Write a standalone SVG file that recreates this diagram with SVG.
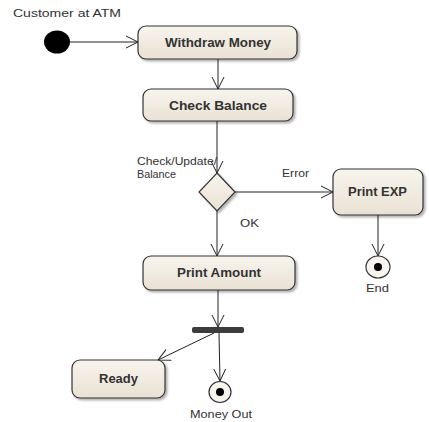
<svg xmlns="http://www.w3.org/2000/svg" width="429" height="422" viewBox="0 0 429 422">
<defs>
<linearGradient id="g" x1="0" y1="0" x2="0" y2="1">
<stop offset="0" stop-color="#f8f5ee"/>
<stop offset="1" stop-color="#e9e1d3"/>
</linearGradient>
<filter id="sh" x="-10%" y="-10%" width="130%" height="140%">
<feDropShadow dx="2" dy="2" stdDeviation="1.2" flood-color="#000" flood-opacity="0.3"/>
</filter>
<marker id="arr" markerUnits="userSpaceOnUse" markerWidth="14" markerHeight="14" refX="12" refY="6" orient="auto" viewBox="0 0 14 12">
<path d="M0,0 L12,6 L0,12" fill="none" stroke="#222" stroke-width="1"/>
</marker>
<style>
.box{fill:url(#g);stroke:#333;stroke-width:1.2;filter:url(#sh)}
.lbl{font-family:"Liberation Sans",Arial,sans-serif;font-size:12px;font-weight:bold;fill:#333}
.txt{font-family:"Liberation Sans",Arial,sans-serif;font-size:11.5px;fill:#333}
.ln{stroke:#222;stroke-width:1;fill:none;marker-end:url(#arr)}
</style>
</defs>
<rect width="429" height="422" fill="#fff"/>

<text class="txt" x="13" y="17" textLength="108" lengthAdjust="spacingAndGlyphs">Customer at ATM</text>

<g id="connectors">
<line class="ln" x1="70" y1="42" x2="138" y2="42"/>
<line class="ln" x1="218" y1="59" x2="218" y2="89"/>
<line class="ln" x1="217" y1="121" x2="217" y2="173"/>
<line class="ln" x1="235" y1="192" x2="333" y2="192"/>
<line class="ln" x1="217" y1="211" x2="217" y2="256"/>
<line class="ln" x1="378" y1="215" x2="378" y2="256"/>
<line class="ln" x1="218" y1="290" x2="218" y2="327"/>
<line class="ln" x1="214" y1="333" x2="158" y2="360"/>
<line class="ln" x1="219" y1="333" x2="220" y2="381"/>
<text class="txt" x="137" y="165" textLength="80" lengthAdjust="spacingAndGlyphs">Check/Update/</text>
<text class="txt" x="137" y="178" textLength="39" lengthAdjust="spacingAndGlyphs">Balance</text>
<text class="txt" x="282" y="177" textLength="27" lengthAdjust="spacingAndGlyphs">Error</text>
<text class="txt" x="240" y="227" textLength="19" lengthAdjust="spacingAndGlyphs">OK</text>
</g>

<g id="start">
<ellipse cx="57" cy="42" rx="13" ry="11.5" fill="#000"/>
</g>

<g id="withdraw">
<rect class="box" x="138" y="26" width="159" height="33" rx="8"/>
<text class="lbl" x="165" y="47" textLength="106" lengthAdjust="spacingAndGlyphs">Withdraw Money</text>
</g>

<g id="check">
<rect class="box" x="143" y="89" width="150" height="32" rx="8"/>
<text class="lbl" x="169" y="110" textLength="98" lengthAdjust="spacingAndGlyphs">Check Balance</text>
</g>

<g id="decision">
<path class="box" d="M217,173 L235,192 L217,211 L199,192 Z"/>
</g>

<g id="printexp">
<rect class="box" x="333" y="169" width="90" height="46" rx="8"/>
<text class="lbl" x="348" y="196" textLength="59" lengthAdjust="spacingAndGlyphs">Print EXP</text>
</g>

<g id="end">
<ellipse cx="378" cy="267" rx="12" ry="11" fill="#f8f5ee" stroke="#333" stroke-width="1.2"/>
<circle cx="378" cy="267" r="4" fill="#000"/>
<text class="txt" x="366" y="292" textLength="23" lengthAdjust="spacingAndGlyphs">End</text>
</g>

<g id="printamount">
<rect class="box" x="143" y="256" width="152" height="34" rx="8"/>
<text class="lbl" x="177" y="277" textLength="84" lengthAdjust="spacingAndGlyphs">Print Amount</text>
</g>

<g id="fork">
<rect x="192" y="327" width="52" height="6" rx="2" fill="#3c3c3c"/>
</g>

<g id="ready">
<rect class="box" x="72" y="360" width="93" height="38" rx="8"/>
<text class="lbl" x="99" y="383" textLength="39" lengthAdjust="spacingAndGlyphs">Ready</text>
</g>

<g id="moneyout">
<ellipse cx="220" cy="392" rx="11" ry="10.5" fill="#f8f5ee" stroke="#333" stroke-width="1.2"/>
<circle cx="220" cy="392" r="4" fill="#000"/>
<text class="txt" x="190" y="418" textLength="62" lengthAdjust="spacingAndGlyphs">Money Out</text>
</g>
</svg>
